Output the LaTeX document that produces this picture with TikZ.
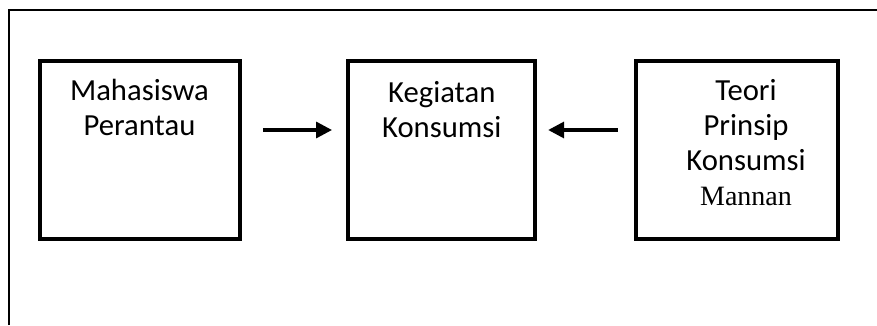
\documentclass[tikz,border=0pt]{standalone}
\usepackage{fontspec}
\setmainfont{Carlito}
\newfontfamily\timesfont{Liberation Serif}
\usetikzlibrary{arrows.meta}

\tikzset{
  konsep/.style={draw, line width=3pt, minimum height=133pt, inner sep=0pt},
  isi/.style={anchor=north, align=center, inner sep=0pt, font=\fontsize{23}{26.25}\selectfont},
  panah/.style={line width=2.5pt, -{Triangle[length=12pt,width=12pt]}}
}

\begin{document}
\begin{tikzpicture}[x=0.75pt,y=-0.75pt]
		\useasboundingbox (0,0) rectangle (877,325);
		%%%%% BINGKAI %%%%%
		\draw[line width=1.5pt] (9,325) -- (9,10) -- (877,10);
		
		%%%%% KOTAK %%%%%
		\node[konsep, minimum width=150pt] (mhs) at (139.5,150) {};
		\node[konsep, minimum width=140.6pt] (keg) at (441.75,150) {};
		\node[konsep, minimum width=151.3pt] (teori) at (736.8,150) {};
		
		\node[isi] (mhs-isi) at (139.5,78.5) {Mahasiswa\\Perantau};
		\node[isi] (keg-isi) at (441.75,81) {Kegiatan\\Konsumsi};
		\node[isi] (teori-isi) at (746,79) {Teori\\Prinsip\\Konsumsi\\{\timesfont\fontsize{21}{26.25}\selectfont Mannan}};
		
		%%%%% PANAH %%%%%
		\draw[panah, shorten <=16pt, shorten >=10.5pt] ([yshift=15pt]mhs.east) -- ([yshift=15pt]keg.west);
		\draw[panah, shorten <=12pt, shorten >=8pt] ([yshift=15pt]teori.west) -- ([yshift=15pt]keg.east);
\end{tikzpicture}
\end{document}
